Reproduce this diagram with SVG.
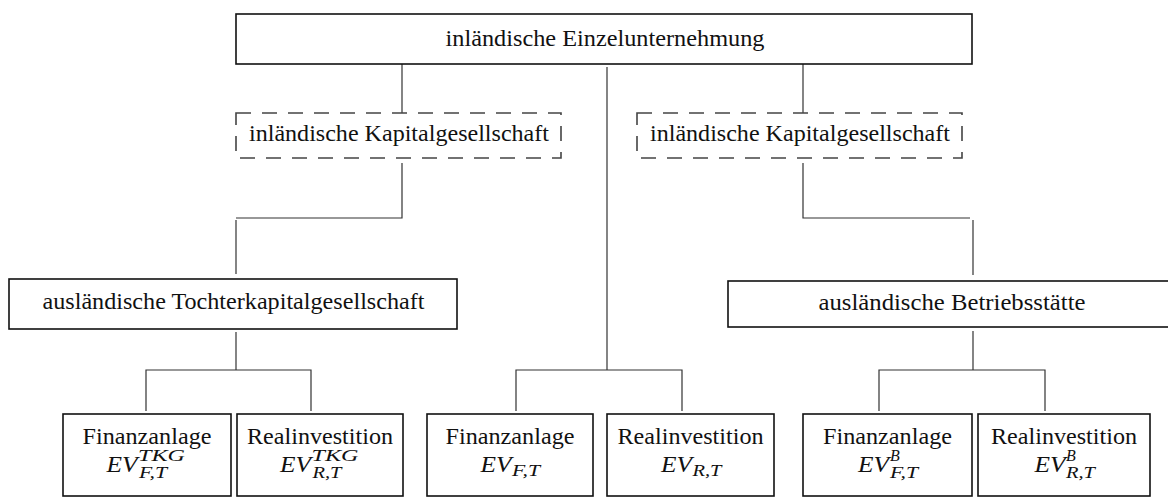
<svg xmlns="http://www.w3.org/2000/svg" width="1168" height="498" viewBox="0 0 1168 498">
<style>
  .box { fill: #fff; stroke: #111; stroke-width: 1.6; }
  .dbox { fill: #fff; stroke: #444; stroke-width: 1.6; stroke-dasharray: 15 11; }
  .lbl { font-family: "Liberation Serif", "Times New Roman", serif; font-size: 23px; fill: #111; text-anchor: middle; }
  .m { font-family: "Liberation Serif", "Times New Roman", serif; font-style: italic; fill: #111; }
  .mb { font-size: 23px; }
  .ms { font-size: 16px; }
  .conn line, .conn polyline { stroke: #333; stroke-width: 1.2; fill: none; }
</style>
<rect width="1168" height="498" fill="#fff"/>

<g id="connectors" class="conn">
  <line x1="402" y1="64" x2="402" y2="113"/>
  <line x1="803" y1="64" x2="803" y2="113"/>
  <line x1="607" y1="67" x2="607" y2="370"/>
  <polyline points="402,163 402,218 236,218"/>
  <line x1="236" y1="220" x2="236" y2="274"/>
  <polyline points="803,163 803,218 970,218"/>
  <line x1="973" y1="220" x2="973" y2="275"/>
  <line x1="236" y1="332" x2="236" y2="370"/>
  <polyline points="146,411 146,370 311,370 311,411"/>
  <polyline points="516,411 516,370 682,370 682,411"/>
  <line x1="973" y1="331" x2="973" y2="370"/>
  <polyline points="879,411 879,370 1045,370 1045,411"/>
</g>

<g id="n-einzel">
  <rect class="box" x="236" y="14" width="736" height="50"/>
  <text class="lbl" x="605" y="46" textLength="319" lengthAdjust="spacingAndGlyphs">inländische Einzelunternehmung</text>
</g>

<g id="n-kg-left">
  <rect class="dbox" x="236" y="113" width="325" height="45"/>
  <text class="lbl" x="399" y="141" textLength="300" lengthAdjust="spacingAndGlyphs">inländische Kapitalgesellschaft</text>
</g>

<g id="n-kg-right">
  <rect class="dbox" x="637" y="113" width="325" height="45"/>
  <text class="lbl" x="800" y="141" textLength="300" lengthAdjust="spacingAndGlyphs">inländische Kapitalgesellschaft</text>
</g>

<g id="n-tochter">
  <rect class="box" x="9" y="279" width="448" height="50"/>
  <text class="lbl" x="233.5" y="309" textLength="382" lengthAdjust="spacingAndGlyphs">ausländische Tochterkapitalgesellschaft</text>
</g>

<g id="n-betrieb">
  <rect class="box" x="728" y="281" width="448" height="46"/>
  <text class="lbl" x="952" y="310" textLength="267" lengthAdjust="spacingAndGlyphs">ausländische Betriebsstätte</text>
</g>

<g id="n-fin-tkg">
  <rect class="box" x="63" y="414" width="168" height="82"/>
  <text class="lbl" x="147" y="444" textLength="129" lengthAdjust="spacingAndGlyphs">Finanzanlage</text>
  <text class="m mb" x="106.5" y="471.5" textLength="31" lengthAdjust="spacingAndGlyphs">EV</text>
  <text class="m ms" x="138" y="461" textLength="47" lengthAdjust="spacingAndGlyphs">TKG</text>
  <text class="m ms" x="139" y="478" textLength="28" lengthAdjust="spacingAndGlyphs">F,T</text>
</g>

<g id="n-real-tkg">
  <rect class="box" x="237" y="414" width="166" height="82"/>
  <text class="lbl" x="320" y="444" textLength="146" lengthAdjust="spacingAndGlyphs">Realinvestition</text>
  <text class="m mb" x="280" y="471.5" textLength="31" lengthAdjust="spacingAndGlyphs">EV</text>
  <text class="m ms" x="311.5" y="461" textLength="47" lengthAdjust="spacingAndGlyphs">TKG</text>
  <text class="m ms" x="312.5" y="478" textLength="29" lengthAdjust="spacingAndGlyphs">R,T</text>
</g>

<g id="n-fin">
  <rect class="box" x="427" y="414" width="166" height="82"/>
  <text class="lbl" x="510" y="444" textLength="129" lengthAdjust="spacingAndGlyphs">Finanzanlage</text>
  <text class="m mb" x="480.5" y="471.5" textLength="31" lengthAdjust="spacingAndGlyphs">EV</text>
  <text class="m ms" x="512" y="476" textLength="28" lengthAdjust="spacingAndGlyphs">F,T</text>
</g>

<g id="n-real">
  <rect class="box" x="607" y="414" width="167" height="82"/>
  <text class="lbl" x="690.5" y="444" textLength="146" lengthAdjust="spacingAndGlyphs">Realinvestition</text>
  <text class="m mb" x="661" y="471.5" textLength="31" lengthAdjust="spacingAndGlyphs">EV</text>
  <text class="m ms" x="692.5" y="476" textLength="29" lengthAdjust="spacingAndGlyphs">R,T</text>
</g>

<g id="n-fin-b">
  <rect class="box" x="803" y="414" width="169" height="82"/>
  <text class="lbl" x="887.5" y="444" textLength="129" lengthAdjust="spacingAndGlyphs">Finanzanlage</text>
  <text class="m mb" x="858" y="471.5" textLength="31" lengthAdjust="spacingAndGlyphs">EV</text>
  <text class="m ms" x="890" y="461">B</text>
  <text class="m ms" x="890" y="478" textLength="28" lengthAdjust="spacingAndGlyphs">F,T</text>
</g>

<g id="n-real-b">
  <rect class="box" x="978" y="414" width="172" height="82"/>
  <text class="lbl" x="1064" y="444" textLength="146" lengthAdjust="spacingAndGlyphs">Realinvestition</text>
  <text class="m mb" x="1034.5" y="471.5" textLength="31" lengthAdjust="spacingAndGlyphs">EV</text>
  <text class="m ms" x="1066" y="461">B</text>
  <text class="m ms" x="1066" y="478" textLength="29" lengthAdjust="spacingAndGlyphs">R,T</text>
</g>
</svg>
